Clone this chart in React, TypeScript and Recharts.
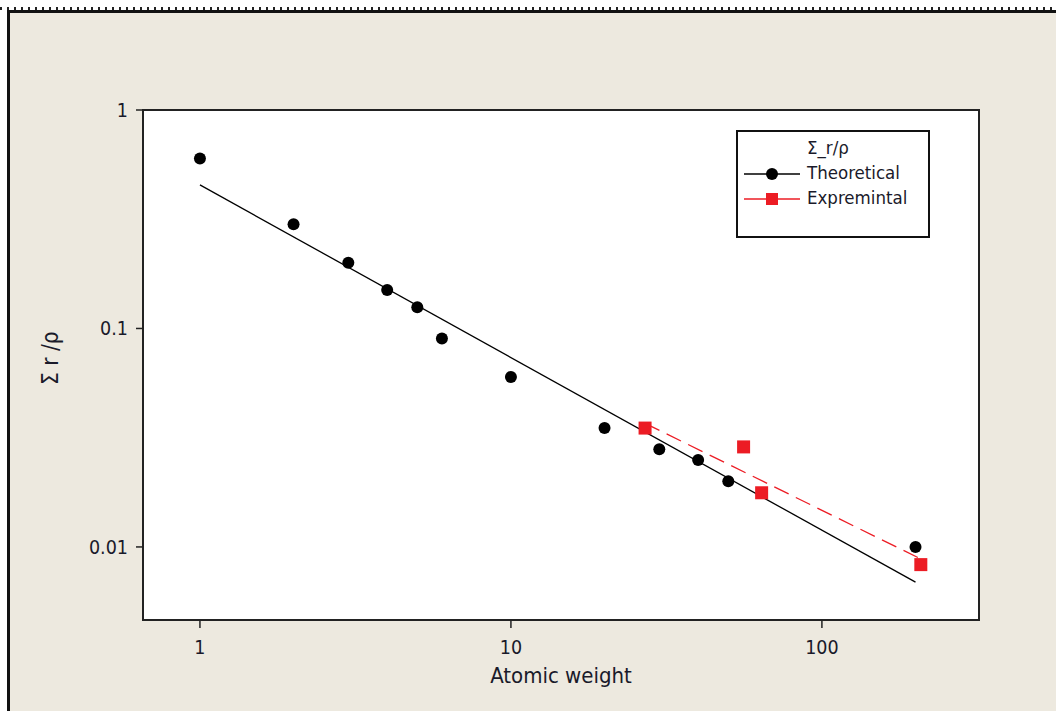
import React from 'react';
import { ScatterChart, Scatter, XAxis, YAxis, ReferenceArea } from 'recharts';

// measured points (log-log)
const atomicWeights = [1, 2, 3, 4, 5, 6, 10, 20, 30, 40, 50, 200];
const theoreticalValues = [0.6, 0.3, 0.2, 0.15, 0.125, 0.09, 0.06, 0.035, 0.028, 0.025, 0.02, 0.01];
const expWeights = [27, 56, 64, 208];
const expValues = [0.035, 0.0287, 0.0177, 0.0083];

// fitted lines, end points only
const theoFitX = [1, 200];
const theoFitY = [0.454, 0.0069];
const expFitX = [27, 205];
const expFitY = [0.0368, 0.0089];

const xTicks = [1, 10, 100];
const yTicks = [0.01, 0.1, 1];
const xDomain = [0.656, 320];
const yDomain = [0.00463, 1];

const FONT = "Tahoma, 'DejaVu Sans Condensed', 'DejaVu Sans', sans-serif";
const RED = '#EC1C24';
const TEXT = '#1a1a2a';

const zip = (xs: number[], ys: number[]) => xs.map((x, i) => ({ x, y: ys[i] }));

const theoData = zip(atomicWeights, theoreticalValues);
const expData = zip(expWeights, expValues);
const theoFit = zip(theoFitX, theoFitY);
const expFit = zip(expFitX, expFitY);

const Dot = (props: any) => <circle cx={props.cx} cy={props.cy} r={6} fill="#000" />;
const Square = (props: any) => (
  <rect x={props.cx - 6.5} y={props.cy - 6.5} width={13} height={13} fill={RED} />
);
const NoMark = () => <g />;

const LegendBox = () => (
  <div
    style={{
      position: 'absolute',
      left: 736,
      top: 130,
      width: 190,
      height: 104,
      border: '2px solid #111',
      background: '#fff',
      fontFamily: FONT,
      fontSize: 18.5,
      color: TEXT,
    }}
  >
    <div style={{ position: 'absolute', left: 69, top: 5 }}>Σ_r/ρ</div>
    <svg width={70} height={60} style={{ position: 'absolute', left: 0, top: 30 }}>
      <line x1={6} y1={12} x2={62} y2={12} stroke="#000" strokeWidth={1.5} />
      <circle cx={34} cy={12} r={6} fill="#000" />
      <line x1={6} y1={37} x2={62} y2={37} stroke={RED} strokeWidth={1.5} />
      <rect x={28} y={31} width={12} height={12} fill={RED} />
    </svg>
    <div style={{ position: 'absolute', left: 69, top: 30 }}>Theoretical</div>
    <div style={{ position: 'absolute', left: 69, top: 55 }}>Expremintal</div>
  </div>
);

export default function App() {
  return (
    <div style={{ position: 'absolute', left: 0, top: 0, width: 1056, height: 711, background: '#fff' }}>
      <div
        style={{
          position: 'absolute',
          left: 0,
          top: 7,
          width: 1056,
          height: 3,
          background: 'repeating-linear-gradient(90deg, #222 0 2px, transparent 2px 7px)',
        }}
      />
      <div
        style={{
          position: 'absolute',
          left: 7,
          top: 10,
          width: 1049,
          height: 701,
          boxSizing: 'border-box',
          borderTop: '3px solid #111',
          borderLeft: '3px solid #111',
          background: '#EDE9DF',
        }}
      />
      <div style={{ position: 'absolute', left: 0, top: 0 }}>
        <ScatterChart
          width={1056}
          height={711}
          margin={{ top: 110, right: 77, bottom: 0, left: 0 }}
          style={{ fontFamily: FONT }}
        >
          <ReferenceArea
            x1={xDomain[0]}
            x2={xDomain[1]}
            y1={yDomain[0]}
            y2={yDomain[1]}
            fill="#fff"
            fillOpacity={1}
            stroke="#222"
            strokeWidth={2}
          />
          <XAxis
            type="number"
            dataKey="x"
            scale="log"
            domain={xDomain}
            allowDataOverflow
            ticks={xTicks}
            height={91}
            tickSize={8}
            tickMargin={12}
            axisLine={{ stroke: '#222', strokeWidth: 2 }}
            tickLine={{ stroke: '#222', strokeWidth: 1.5 }}
            tick={{ fill: TEXT, fontSize: 19.5 }}
            label={{ value: 'Atomic weight', position: 'insideBottom', offset: 28, fill: TEXT, fontSize: 22 }}
          />
          <YAxis
            type="number"
            dataKey="y"
            scale="log"
            domain={yDomain}
            allowDataOverflow
            ticks={yTicks}
            tickFormatter={(v: number) => String(v)}
            width={143}
            tickSize={7}
            tickMargin={8}
            axisLine={{ stroke: '#222', strokeWidth: 2 }}
            tickLine={{ stroke: '#222', strokeWidth: 1.5 }}
            tick={{ fill: TEXT, fontSize: 19.5 }}
            label={{ value: 'Σ r /ρ', angle: -90, position: 'insideLeft', offset: 50, dy: 20, fill: TEXT, fontSize: 22.5 }}
          />
          <Scatter
            name="Theoretical fit"
            data={theoFit}
            line={{ stroke: '#000', strokeWidth: 1.3 }}
            shape={NoMark}
            isAnimationActive={false}
          />
          <Scatter
            name="Expremintal fit"
            data={expFit}
            line={{ stroke: RED, strokeWidth: 1.3, strokeDasharray: '16 8' }}
            shape={NoMark}
            isAnimationActive={false}
          />
          <Scatter name="Theoretical" data={theoData} shape={Dot} isAnimationActive={false} />
          <Scatter name="Expremintal" data={expData} shape={Square} isAnimationActive={false} />
        </ScatterChart>
      </div>
      <LegendBox />
    </div>
  );
}
